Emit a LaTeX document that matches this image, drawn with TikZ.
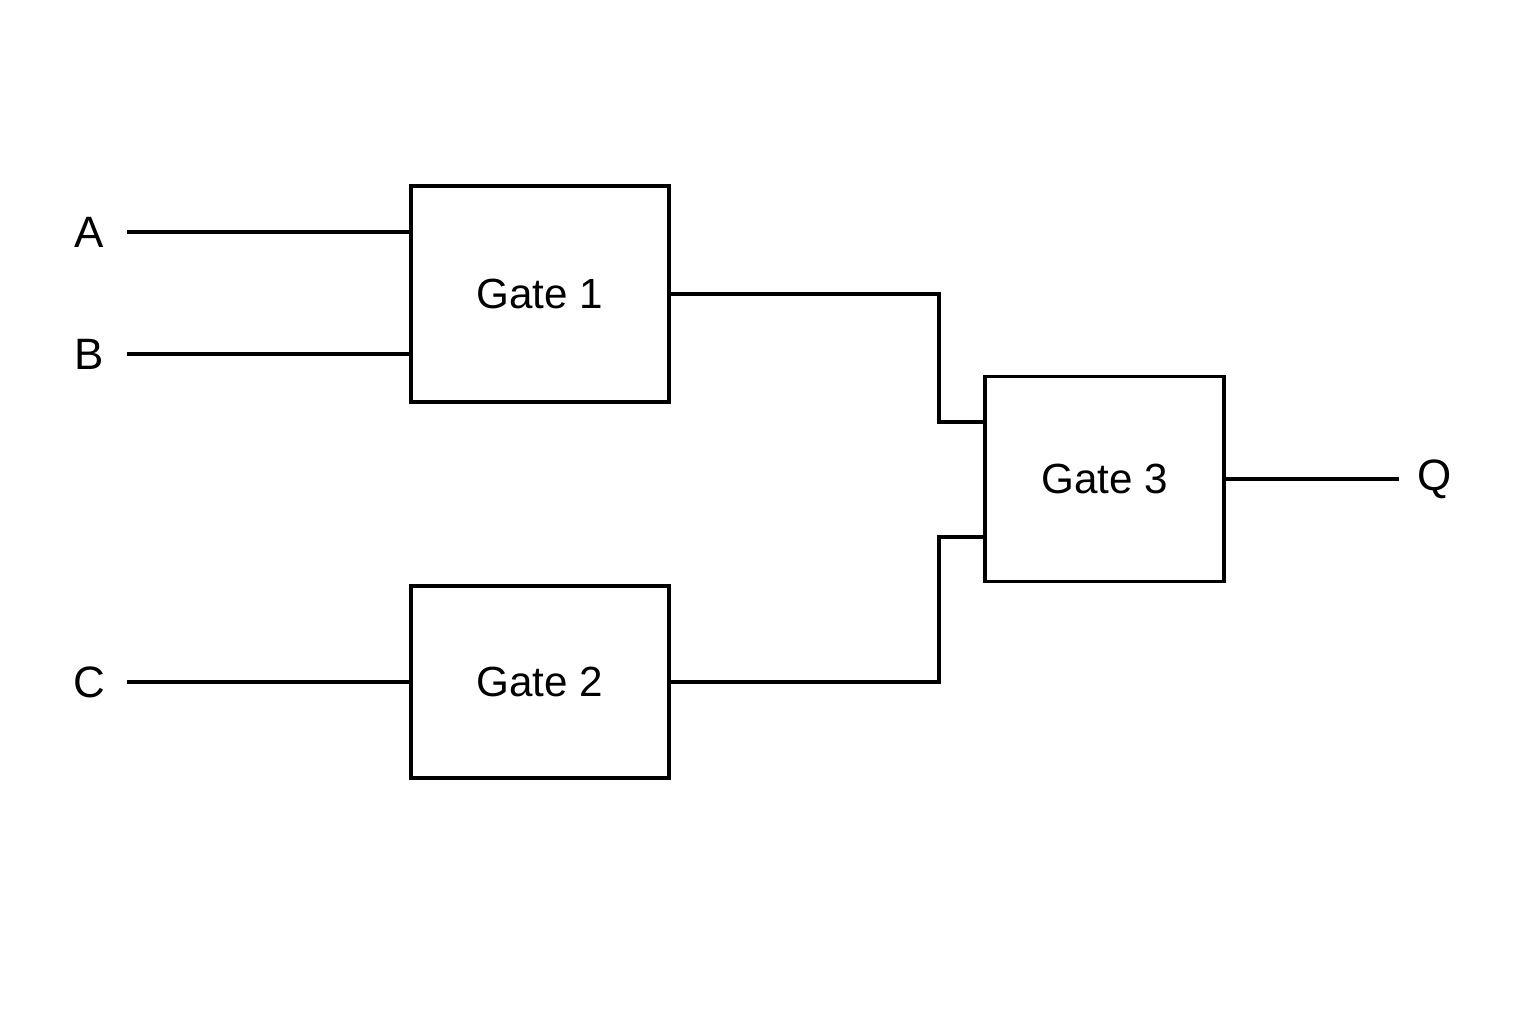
\documentclass[tikz,border=0pt]{standalone}
\usepackage{fontspec}
\setmainfont{Liberation Sans}
\tikzset{
  gatebox/.style={draw, line width=1pt, inner sep=0pt, font=\fontsize{12}{14}\selectfont},
  wire/.style={line width=1pt},
  lbl/.style={font=\fontsize{12.5}{15}\selectfont}
}
\begin{document}
\begin{tikzpicture}
  \useasboundingbox (0,0) rectangle (15.36,10.24);
  % gates
  \node[gatebox, minimum width=2.58cm, minimum height=2.16cm] (g1) at (5.40,7.30) {Gate 1};
  \node[gatebox, minimum width=2.58cm, minimum height=1.92cm] (g2) at (5.40,3.42) {Gate 2};
  \node[gatebox, minimum width=2.39cm, minimum height=2.05cm] (g3) at (11.045,5.45) {Gate 3};
  % inputs and output
  \node[lbl] (a) at (0.89,7.92) {A};
  \node[lbl] (b) at (0.89,6.70) {B};
  \node[lbl] (c) at (0.89,3.42) {C};
  \node[lbl] (q) at (14.35,5.45) {Q};
  \coordinate (ain) at (4.11,7.92);
  \coordinate (bin) at (4.11,6.70);
  \coordinate (cin) at (1.27,3.42);
  \coordinate (qout) at (13.99,5.45);
  \coordinate (g3a) at (9.85,6.02);
  \coordinate (g3b) at (9.85,4.87);
  \draw[wire] (1.27,7.92) -- (ain);
  \draw[wire] (1.27,6.70) -- (bin);
  \draw[wire] (cin) -- (g2.west);
  \draw[wire] (g1.east) -| (9.39,6.02) -- (g3a);
  \draw[wire] (g2.east) -| (9.39,4.87) -- (g3b);
  \draw[wire] (g3.east) -- (qout);
\end{tikzpicture}
\end{document}
